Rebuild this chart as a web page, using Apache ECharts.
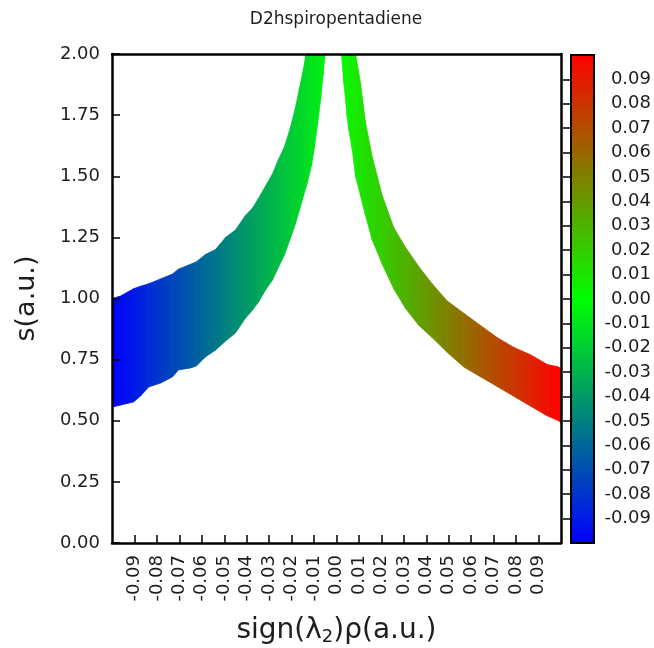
<!DOCTYPE html>
<html><head><meta charset="utf-8">
<script src="https://cdn.jsdelivr.net/npm/echarts@6/dist/echarts.min.js"></script>
<style>html,body{margin:0;padding:0;background:#fff}#c{width:654px;height:648px}</style>
</head><body><div id="c"></div>
<script>
const chartTitle = 'D2hspiropentadiene';
const xAxisTitle = 'sign(λ{sub|2})ρ(a.u.)';
const yAxisTitle = 's(a.u.)';

// Attractive (negative) side band: sign(λ2)ρ, lower and upper edge of s
const leftX = [-0.1000, -0.0962, -0.0904, -0.0873, -0.0837, -0.0784, -0.0731, -0.0704, -0.0650, -0.0624,
  -0.0584, -0.0539, -0.0494, -0.0450, -0.0405, -0.0374, -0.0347, -0.0316, -0.0285, -0.0258,
  -0.0232, -0.0205, -0.0183, -0.0165, -0.0147, -0.0136, -0.0129, -0.0111, -0.0098, -0.0085,
  -0.0071, -0.0060, -0.0051];
const leftLow = [0.556, 0.564, 0.577, 0.601, 0.638, 0.654, 0.679, 0.708, 0.716, 0.724,
  0.761, 0.789, 0.826, 0.859, 0.920, 0.953, 0.986, 1.035, 1.076, 1.129,
  1.178, 1.247, 1.305, 1.362, 1.419, 1.455, 1.477, 1.546, 1.620, 1.710,
  1.812, 1.914, 2.000];
const leftHigh = [1.00, 1.01, 1.04, 1.05, 1.06, 1.08, 1.10, 1.12, 1.14, 1.15,
  1.18, 1.20, 1.25, 1.28, 1.34, 1.37, 1.41, 1.46, 1.51, 1.57,
  1.62, 1.70, 1.78, 1.86, 1.94, 2.00, 2.00, 2.00, 2.00, 2.00,
  2.00, 2.00, 2.00];

// Repulsive (positive) side band
const rightX = [0.0022, 0.0033, 0.0048, 0.0055, 0.0070, 0.0085, 0.0107, 0.0129, 0.0159, 0.0204,
  0.0255, 0.0307, 0.0367, 0.0426, 0.0493, 0.0567, 0.0641, 0.0716, 0.0790, 0.0864,
  0.0939, 0.0990, 0.1000];
const rightLow = [2.00, 1.88, 1.74, 1.69, 1.61, 1.50, 1.42, 1.34, 1.24, 1.14,
  1.04, 0.96, 0.89, 0.84, 0.78, 0.72, 0.68, 0.64, 0.60, 0.56,
  0.52, 0.50, 0.49];
const rightHigh = [2.00, 2.00, 2.00, 2.00, 2.00, 2.00, 1.88, 1.72, 1.58, 1.42,
  1.29, 1.21, 1.13, 1.06, 0.99, 0.94, 0.89, 0.84, 0.80, 0.77,
  0.73, 0.72, 0.71];

const xRange = [-0.1, 0.1];
const xStep = 0.01;
const yRange = [0, 2];
const yStep = 0.25;
const cbRange = [-0.1, 0.1];
const cbStep = 0.01;

const FONT = 'DejaVu Sans';
const TXT = '#1e1e1e';

function colorAt(x) {
  let r, g, b;
  if (x < 0) {
    const t = Math.min(1, Math.max(0, (x + 0.1) / 0.1));
    r = 0; g = 255 * t; b = 255 * (1 - t);
  } else {
    const t = Math.min(1, Math.max(0, x / 0.1));
    r = 255 * t; g = 255 * (1 - t); b = 0;
  }
  return 'rgb(' + Math.round(r) + ',' + Math.round(g) + ',' + Math.round(b) + ')';
}

function fmt(v) {
  if (Math.abs(v) < 1e-9) return '0.00';
  return v.toFixed(2);
}

function bandRenderer(xs, lows, highs) {
  return function (params, api) {
    const i = params.dataIndex;
    if (i >= xs.length - 1) return null;
    const a = api.coord([api.value(0), api.value(2)]);
    const b = api.coord([xs[i + 1], highs[i + 1]]);
    const c = api.coord([xs[i + 1], lows[i + 1]]);
    const d = api.coord([api.value(0), api.value(1)]);
    const grad = new echarts.graphic.LinearGradient(a[0], 0, b[0], 0, [
      { offset: 0, color: colorAt(xs[i]) },
      { offset: 1, color: colorAt(xs[i + 1]) }
    ], true);
    return {
      type: 'polygon',
      shape: { points: [a, b, c, d] },
      style: { fill: grad, stroke: grad, lineWidth: 0.8 }
    };
  };
}

const chart = echarts.init(document.getElementById('c'), null, { renderer: 'canvas' });

const option = {
  animation: false,
  backgroundColor: '#fff',
  textStyle: { fontFamily: FONT },
  graphic: [{
    type: 'text', x: 336, y: 20,
    style: { text: chartTitle, font: '17px "DejaVu Sans"', fill: TXT, textAlign: 'center', textVerticalAlign: 'middle' }
  }],
  grid: [
    { left: 112, top: 54, width: 449, height: 489, show: false, outerBoundsMode: 'none', containLabel: false },
    {
      left: 571, top: 55, width: 23, height: 488, show: true, outerBoundsMode: 'none', containLabel: false,
      borderColor: '#000', borderWidth: 2,
      backgroundColor: new echarts.graphic.LinearGradient(0, 0, 0, 1, [
        { offset: 0, color: colorAt(cbRange[1]) },
        { offset: 0.5, color: colorAt(0) },
        { offset: 1, color: colorAt(cbRange[0]) }
      ])
    }
  ],
  xAxis: [
    {
      gridIndex: 0, type: 'value', min: xRange[0], max: xRange[1], interval: xStep, z: 10,
      axisLine: { show: true, onZero: false, lineStyle: { color: '#000', width: 2.5 } },
      axisTick: { show: true, inside: true, length: 8, lineStyle: { color: '#000', width: 1.5 } },
      axisLabel: { rotate: 90, formatter: fmt, showMinLabel: false, showMaxLabel: false, fontSize: 18, color: TXT, margin: 12, fontFamily: FONT },
      splitLine: { show: false },
      name: xAxisTitle, nameLocation: 'middle', nameGap: 73, nameMoveOverlap: false,
      nameTextStyle: {
        fontSize: 28, color: TXT, fontFamily: FONT,
        rich: { sub: { fontSize: 18, color: TXT, fontFamily: FONT, padding: [12, 0, 0, 0] } }
      }
    },
    {
      gridIndex: 0, type: 'value', position: 'top', min: xRange[0], max: xRange[1], z: 10,
      axisLine: { show: true, onZero: false, lineStyle: { color: '#000', width: 2.5 } },
      axisTick: { show: false }, axisLabel: { show: false }, splitLine: { show: false }
    },
    {
      gridIndex: 1, type: 'value', min: 0, max: 1, show: false
    }
  ],
  yAxis: [
    {
      gridIndex: 0, type: 'value', min: yRange[0], max: yRange[1], interval: yStep, z: 10,
      axisLine: { show: true, onZero: false, lineStyle: { color: '#000', width: 2.5 } },
      axisTick: { show: true, inside: true, length: 8, lineStyle: { color: '#000', width: 1.5 } },
      axisLabel: { formatter: fmt, fontSize: 18, color: TXT, margin: 12, fontFamily: FONT },
      splitLine: { show: false },
      name: yAxisTitle, nameLocation: 'middle', nameGap: 72,
      nameTextStyle: { fontSize: 27, color: TXT, fontFamily: FONT }
    },
    {
      gridIndex: 0, type: 'value', position: 'right', min: yRange[0], max: yRange[1], z: 10,
      axisLine: { show: true, onZero: false, lineStyle: { color: '#000', width: 2.5 } },
      axisTick: { show: false }, axisLabel: { show: false }, splitLine: { show: false }
    },
    {
      gridIndex: 1, type: 'value', position: 'right', min: cbRange[0], max: cbRange[1], interval: cbStep, z: 10,
      axisLine: { show: false },
      axisTick: { show: true, inside: true, length: 8, lineStyle: { color: '#000', width: 1.5 } },
      axisLabel: { formatter: fmt, showMinLabel: false, showMaxLabel: false, fontSize: 18, color: TXT, margin: 57, align: 'right', fontFamily: FONT },
      splitLine: { show: false }
    }
  ],
  series: [
    {
      type: 'custom', xAxisIndex: 0, yAxisIndex: 0, clip: true,
      data: leftX.map((x, i) => [x, leftLow[i], leftHigh[i]]),
      encode: { x: 0, y: [1, 2] },
      renderItem: bandRenderer(leftX, leftLow, leftHigh)
    },
    {
      type: 'custom', xAxisIndex: 0, yAxisIndex: 0, clip: true,
      data: rightX.map((x, i) => [x, rightLow[i], rightHigh[i]]),
      encode: { x: 0, y: [1, 2] },
      renderItem: bandRenderer(rightX, rightLow, rightHigh)
    }
  ]
};
chart.setOption(option);
</script>
</body></html>
